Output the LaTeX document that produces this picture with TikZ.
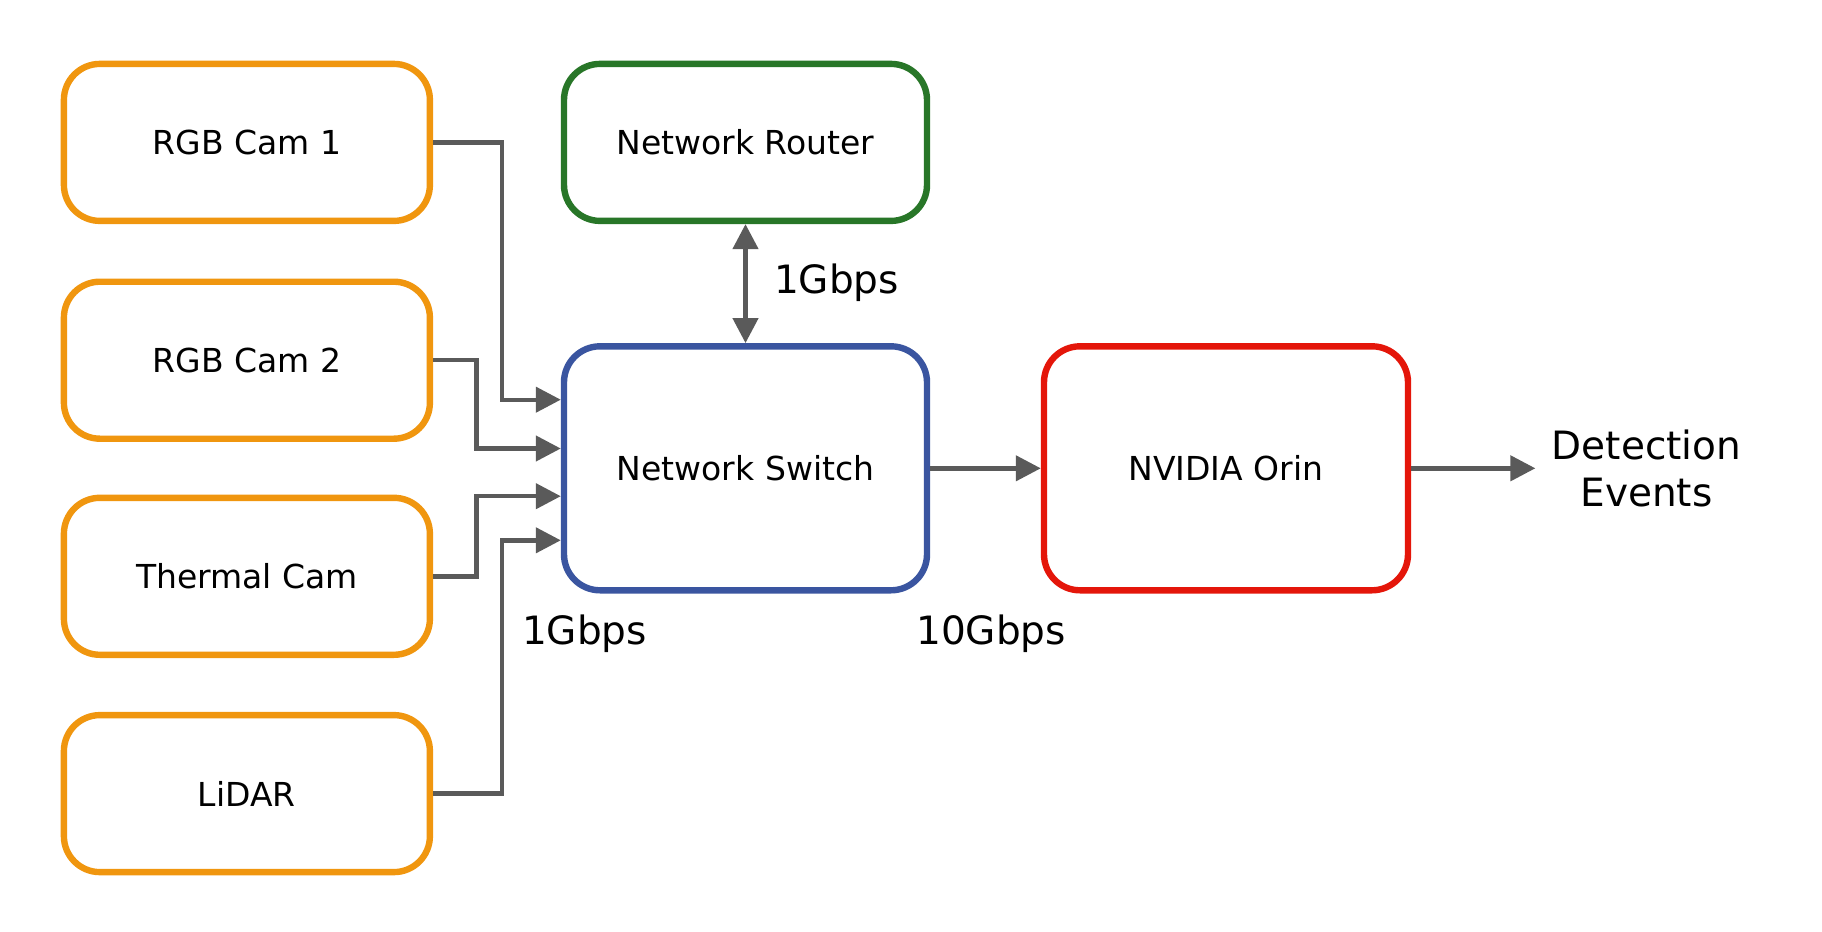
\documentclass[tikz,border=0pt]{standalone}
\usepackage{fontspec}
\setmainfont{DejaVu Sans}
\usetikzlibrary{arrows.meta}
\definecolor{camorange}{RGB}{240,150,15}
\definecolor{routergreen}{RGB}{40,118,40}
\definecolor{switchblue}{RGB}{58,85,160}
\definecolor{orinred}{RGB}{228,22,10}
\definecolor{conngray}{RGB}{90,90,90}
\tikzset{
  boxbase/.style={draw, line width=3.2pt, rounded corners=18pt, fill=white,
    font=\fontsize{16.5}{20}\selectfont, inner sep=0pt, align=center},
  cambox/.style={boxbase, draw=camorange, minimum width=183pt, minimum height=78.5pt},
  routerbox/.style={boxbase, draw=routergreen, minimum width=181.5pt, minimum height=78.5pt},
  switchbox/.style={boxbase, draw=switchblue, minimum width=181.5pt, minimum height=122pt},
  orinbox/.style={boxbase, draw=orinred, minimum width=182pt, minimum height=122pt},
  conn/.style={draw=conngray, line width=2.2pt, -{Triangle[length=12.5pt,width=12.5pt]}},
  biconn/.style={draw=conngray, line width=2.2pt, {Triangle[length=12.5pt,width=12.5pt]}-{Triangle[length=12.5pt,width=12.5pt]}},
  lbl/.style={font=\fontsize{19.5}{24}\selectfont, inner sep=0pt},
}
\begin{document}
\begin{tikzpicture}[x=0.5pt, y=-0.5pt]
\useasboundingbox (0,0) rectangle (1822,932);
\node[cambox] (cam1) at (246.9,142.4) {RGB Cam 1};
\node[cambox] (cam2) at (246.9,360.2) {RGB Cam 2};
\node[cambox] (therm) at (246.9,576.3) {Thermal Cam};
\node[cambox] (lidar) at (246.9,793.6) {LiDAR};
\node[routerbox] (router) at (745.5,142.4) {Network Router};
\node[switchbox] (switch) at (745.5,468.3) {Network Switch};
\node[orinbox] (orin) at (1226,468.3) {NVIDIA Orin};
\node[lbl, align=center, inner xsep=8pt, font=\fontsize{19.5}{23.8}\selectfont] (events) at (1646.5,468.3) {Detection\\Events};

\coordinate (j1) at (502,399.7);
\coordinate (j2) at (476.4,448.5);
\coordinate (j3) at (476.4,496.2);
\coordinate (j4) at (502,540.3);

\draw[conn] (cam1.east) -| (j1) -- (j1 -| switch.west);
\draw[conn] (cam2.east) -| (j2) -- (j2 -| switch.west);
\draw[conn] (therm.east) -| (j3) -- (j3 -| switch.west);
\draw[conn] (lidar.east) -| (j4) -- (j4 -| switch.west);
\draw[biconn] (router) -- (switch);
\draw[conn] (switch) -- (orin);
\draw[conn] (orin.east) -- (events.west);

\node[lbl] (l1) at (836.6,282.4) {1Gbps};
\node[lbl] (l2) at (584.5,633.3) {1Gbps};
\node[lbl] (l3) at (991.2,633.3) {10Gbps};
\end{tikzpicture}
\end{document}
